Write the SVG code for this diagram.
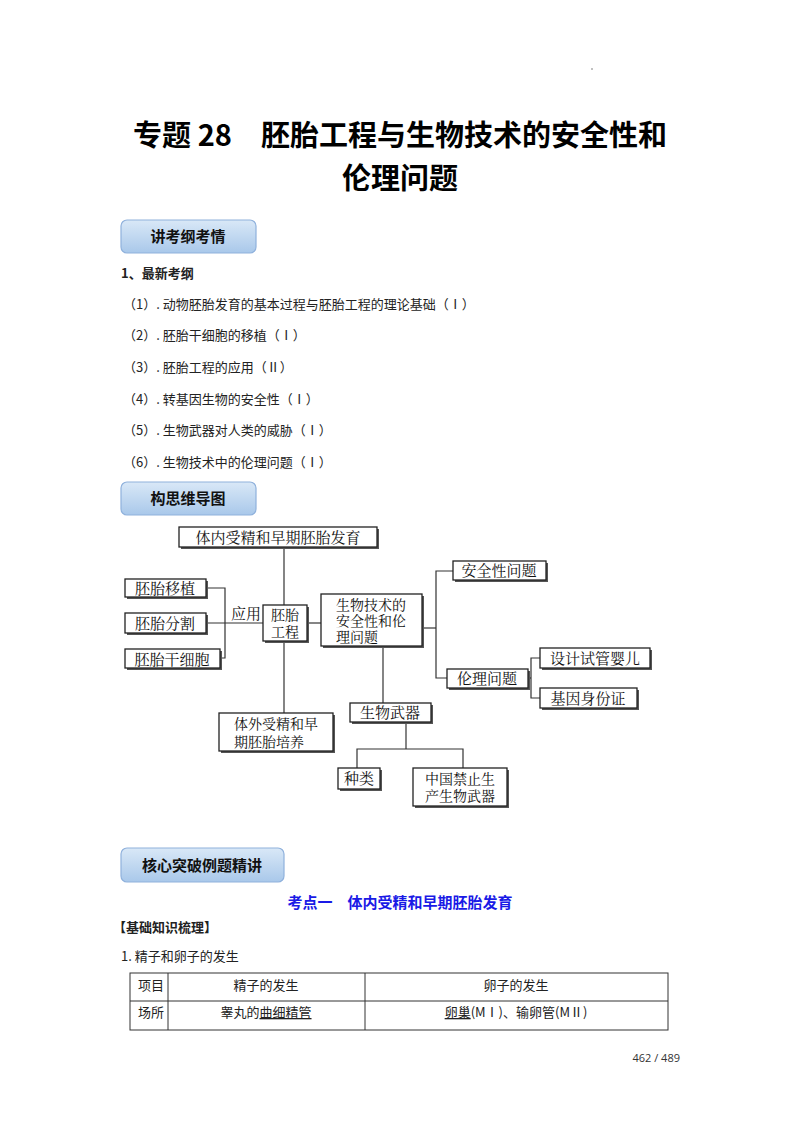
<svg xmlns="http://www.w3.org/2000/svg" width="800" height="1132" viewBox="0 0 800 1132">
<defs>
<linearGradient id="hg" x1="0" y1="0" x2="0" y2="1"><stop offset="0" stop-color="#d9e8f7"/><stop offset="1" stop-color="#a9c8ea"/></linearGradient>
<style>
.b{fill:#fff;stroke:#222;stroke-width:1.3}
.sh{fill:#555}
.n{font-family:"Noto Serif CJK SC","Noto Sans CJK SC",serif;font-size:15px;fill:#111}
.m{font-size:14px}
.c line,.c polyline{stroke:#333;stroke-width:1.2;fill:none}
.h{fill:url(#hg);stroke:#8fb1dc;stroke-width:1.2}
.ht{font-family:"Noto Sans CJK SC",sans-serif;font-size:15px;font-weight:bold;fill:#111}
.t{font-family:"Noto Sans CJK SC",sans-serif;font-size:13px;fill:#222}
</style>
</defs>
<rect width="800" height="1132" fill="#fff"/>
<circle cx="592" cy="69" r="0.7" fill="#555"/>
<text x="400" y="146" text-anchor="middle" font-family="Noto Sans CJK SC,sans-serif" font-size="29" font-weight="bold">专题 28　胚胎工程与生物技术的安全性和</text>
<text x="400" y="189" text-anchor="middle" font-family="Noto Sans CJK SC,sans-serif" font-size="29" font-weight="bold">伦理问题</text>
<g id="h1"><rect class="h" x="121" y="220" width="135" height="33" rx="6"/><text class="ht" x="188" y="242" text-anchor="middle">讲考纲考情</text></g>
<text class="t" x="121" y="278" font-weight="bold">1、最新考纲</text>
<text class="t" x="123" y="309">（1）. 动物胚胎发育的基本过程与胚胎工程的理论基础（Ⅰ）</text>
<text class="t" x="123" y="340">（2）. 胚胎干细胞的移植（Ⅰ）</text>
<text class="t" x="123" y="372">（3）. 胚胎工程的应用（Ⅱ）</text>
<text class="t" x="123" y="404">（4）. 转基因生物的安全性（Ⅰ）</text>
<text class="t" x="123" y="435">（5）. 生物武器对人类的威胁（Ⅰ）</text>
<text class="t" x="123" y="467">（6）. 生物技术中的伦理问题（Ⅰ）</text>
<g id="h2"><rect class="h" x="121" y="482" width="135" height="33" rx="6"/><text class="ht" x="188" y="504" text-anchor="middle">构思维导图</text></g>
<g class="c" id="connectors">
<line x1="284" y1="547" x2="284" y2="605"/><line x1="284" y1="641" x2="284" y2="713"/>
<polyline points="206,588 225,588 225,658 220,658"/><line x1="206" y1="623" x2="263" y2="623"/>
<line x1="307" y1="623" x2="321" y2="623"/>
<line x1="422" y1="628" x2="436" y2="628"/>
<polyline points="453,571 436,571 436,678 447,678"/>
<line x1="528" y1="678" x2="531" y2="678"/>
<polyline points="540,658 531,658 531,698 540,698"/>
<line x1="383" y1="646" x2="383" y2="703"/>
<line x1="406" y1="722" x2="406" y2="749"/>
<polyline points="357,768 357,749 463,749 463,768"/>
</g>
<text class="n" x="231" y="619" font-size="13">应用</text>
<g id="n1"><rect class="sh" x="181" y="529" width="198" height="20"/><rect class="b" x="179" y="527" width="198" height="20"/><text class="n" x="278" y="543" text-anchor="middle">体内受精和早期胚胎发育</text></g>
<g id="n2"><rect class="sh" x="127" y="581" width="81" height="18"/><rect class="b" x="125" y="579" width="81" height="18"/><text class="n" x="165" y="594" text-anchor="middle">胚胎移植</text></g>
<g id="n3"><rect class="sh" x="127" y="615" width="81" height="20"/><rect class="b" x="125" y="613" width="81" height="20"/><text class="n" x="165" y="629" text-anchor="middle">胚胎分割</text></g>
<g id="n4"><rect class="sh" x="127" y="651" width="95" height="19"/><rect class="b" x="125" y="649" width="95" height="19"/><text class="n" x="172" y="665" text-anchor="middle">胚胎干细胞</text></g>
<g id="n5"><rect class="sh" x="265" y="607" width="44" height="36"/><rect class="b" x="263" y="605" width="44" height="36"/><text class="n m" x="285" y="620" text-anchor="middle">胚胎</text><text class="n m" x="285" y="637" text-anchor="middle">工程</text></g>
<g id="n6"><rect class="sh" x="323" y="596" width="101" height="52"/><rect class="b" x="321" y="594" width="101" height="52"/><text class="n m" x="371" y="610" text-anchor="middle">生物技术的</text><text class="n m" x="371" y="626" text-anchor="middle">安全性和伦</text><text class="n m" x="336" y="642">理问题</text></g>
<g id="n7"><rect class="sh" x="221" y="715" width="114" height="38"/><rect class="b" x="219" y="713" width="114" height="38"/><text class="n m" x="276" y="729" text-anchor="middle">体外受精和早</text><text class="n m" x="234" y="747">期胚胎培养</text></g>
<g id="n8"><rect class="sh" x="455" y="563" width="93" height="19"/><rect class="b" x="453" y="561" width="93" height="19"/><text class="n" x="499" y="576" text-anchor="middle">安全性问题</text></g>
<g id="n9"><rect class="sh" x="449" y="671" width="81" height="19"/><rect class="b" x="447" y="669" width="81" height="19"/><text class="n" x="487" y="684" text-anchor="middle">伦理问题</text></g>
<g id="n10"><rect class="sh" x="542" y="650" width="110" height="20"/><rect class="b" x="540" y="648" width="110" height="20"/><text class="n" x="595" y="664" text-anchor="middle">设计试管婴儿</text></g>
<g id="n11"><rect class="sh" x="542" y="690" width="97" height="20"/><rect class="b" x="540" y="688" width="97" height="20"/><text class="n" x="588" y="704" text-anchor="middle">基因身份证</text></g>
<g id="n12"><rect class="sh" x="352" y="705" width="81" height="19"/><rect class="b" x="350" y="703" width="81" height="19"/><text class="n" x="390" y="718" text-anchor="middle">生物武器</text></g>
<g id="n13"><rect class="sh" x="340" y="770" width="42" height="21"/><rect class="b" x="338" y="768" width="42" height="21"/><text class="n" x="359" y="784" text-anchor="middle">种类</text></g>
<g id="n14"><rect class="sh" x="415" y="770" width="94" height="38"/><rect class="b" x="413" y="768" width="94" height="38"/><text class="n m" x="460" y="784" text-anchor="middle">中国禁止生</text><text class="n m" x="460" y="801" text-anchor="middle">产生物武器</text></g>
<g id="h3"><rect class="h" x="121" y="848" width="163" height="34" rx="6"/><text class="ht" x="202" y="871" text-anchor="middle">核心突破例题精讲</text></g>
<text x="400" y="908" text-anchor="middle" font-family="Noto Sans CJK SC,sans-serif" font-size="15" font-weight="bold" fill="#1a1ae6">考点一　体内受精和早期胚胎发育</text>
<text class="t" x="113" y="932" font-weight="bold">【基础知识梳理】</text>
<text class="t" x="121" y="961">1. 精子和卵子的发生</text>
<g fill="none" stroke="#333" stroke-width="1"><rect x="130" y="973" width="538" height="57"/><line x1="130" y1="1001" x2="668" y2="1001"/><line x1="168" y1="973" x2="168" y2="1030"/><line x1="365" y1="973" x2="365" y2="1030"/></g>
<text class="t" x="138" y="990">项目</text><text class="t" x="266" y="990" text-anchor="middle">精子的发生</text><text class="t" x="516" y="990" text-anchor="middle">卵子的发生</text>
<text class="t" x="138" y="1017">场所</text>
<text class="t" x="266" y="1017" text-anchor="middle">睾丸的<tspan text-decoration="underline">曲细精管</tspan></text>
<text class="t" x="516" y="1017" text-anchor="middle"><tspan text-decoration="underline">卵巢</tspan>(MⅠ)、输卵管(MⅡ)</text>
<text x="680" y="1062" text-anchor="end" font-family="Open Sans,sans-serif" font-size="11" fill="#333">462 / 489</text>
</svg>
